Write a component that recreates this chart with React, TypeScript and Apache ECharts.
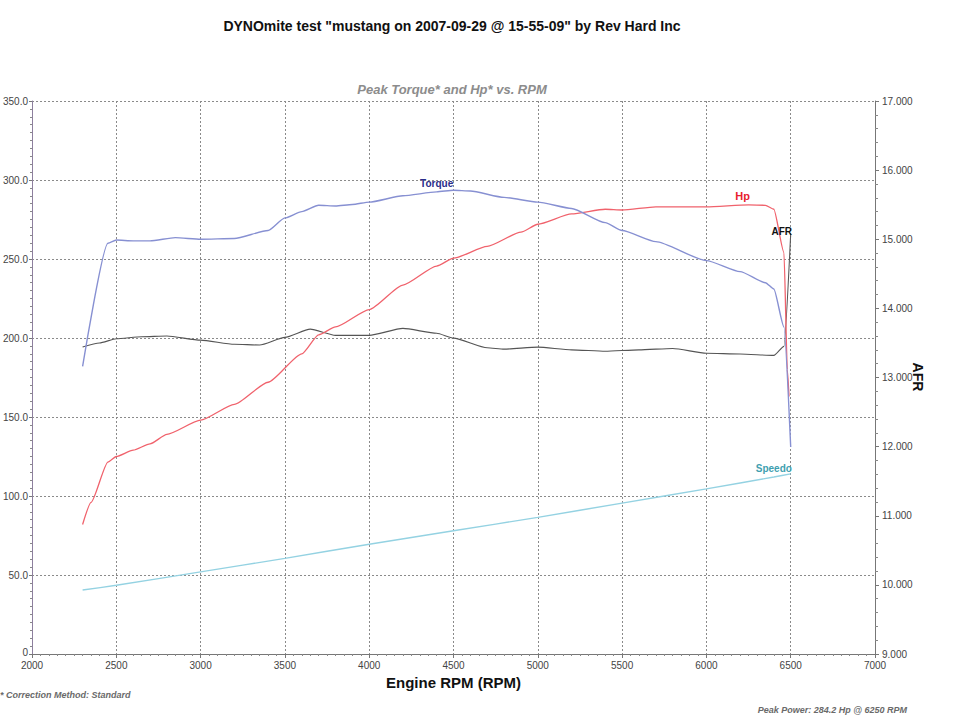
import React, { useEffect, useRef } from "react";
import * as echarts from "echarts";

const FONT = "'Liberation Sans', Arial, sans-serif";

const titleText = 'DYNOmite test "mustang on 2007-09-29 @ 15-55-09" by Rev Hard Inc';
const subtitleText = "Peak Torque* and Hp* vs. RPM";
const xAxisName = "Engine RPM (RPM)";
const rightAxisName = "AFR";
const footLeft = "* Correction Method: Standard";
const footRight = "Peak Power: 284.2 Hp @ 6250 RPM";

const torqueRpm = [2300, 2450, 2500, 2600, 2700, 2850, 3000, 3200, 3400, 3500, 3600, 3700, 3800, 3900, 4000, 4200, 4400, 4500, 4600, 4800, 5000, 5200, 5400, 5500, 5700, 6000, 6200, 6350, 6400, 6460, 6500];
const torqueVals = [182, 260, 262, 261.5, 261.5, 263.5, 262.5, 263, 268, 276, 280, 284, 283.5, 284.5, 286, 290, 292.5, 293.5, 293, 289, 286, 282, 273, 268, 261, 249, 242, 235, 231, 207, 131];

const hpRpm = [2300, 2350, 2450, 2500, 2600, 2700, 2800, 3000, 3200, 3400, 3600, 3700, 3800, 4000, 4200, 4400, 4500, 4700, 4900, 5000, 5200, 5400, 5500, 5700, 6000, 6250, 6350, 6400, 6460, 6480, 6490];
const hpVals = [82, 96, 121.5, 125, 129, 133, 139, 148, 158, 172, 190, 202, 207, 218, 233.5, 245.5, 250.5, 258, 267, 272, 278.5, 281.5, 281, 283, 283, 284.2, 284, 281.5, 254, 180, 163];

const afrRpm = [2300, 2400, 2500, 2650, 2800, 3000, 3200, 3350, 3500, 3650, 3800, 4000, 4200, 4400, 4500, 4700, 4800, 5000, 5200, 5400, 5600, 5800, 6000, 6200, 6400, 6460, 6500];
const afrVals = [13.44, 13.5, 13.56, 13.59, 13.6, 13.54, 13.48, 13.47, 13.58, 13.7, 13.61, 13.61, 13.71, 13.64, 13.57, 13.43, 13.41, 13.44, 13.4, 13.38, 13.4, 13.42, 13.35, 13.34, 13.32, 13.45, 15.08];

const speedoRpm = [2300, 2500, 3000, 3500, 4000, 4500, 5000, 5500, 6000, 6400, 6500];
const speedoVals = [40.5, 43.5, 52, 60.5, 69.5, 78, 86.5, 95.5, 104.5, 112, 114];

const torqueLabelAt = 4400;
const hpLabelAt = 6250;
const afrLabelAt = 6500;
const speedoLabelAt = 6400;

function pairs(rpm: number[], vals: number[]) {
  return rpm.map((r, i) => [r, vals[i]]);
}

function seriesLabel(rpm: number[], vals: number[], at: number, name: string, color: string, offset: number[], size = 10) {
  const i = rpm.indexOf(at);
  return {
    silent: true,
    symbol: "circle",
    symbolSize: 1,
    itemStyle: { color: "rgba(0,0,0,0)" },
    label: {
      show: true,
      formatter: name,
      position: "top",
      distance: 3,
      offset,
      color,
      fontFamily: FONT,
      fontWeight: "bold",
      fontSize: size,
    },
    data: [{ coord: [rpm[i], vals[i]] }],
  };
}

export default function App() {
  const ref = useRef<HTMLDivElement>(null);
  useEffect(() => {
    if (!ref.current) return;
    const chart = echarts.init(ref.current, null, { renderer: "svg" });
    const gridSplit = { show: true, lineStyle: { color: "#8a8a8a", type: [2, 2], width: 1 } };
    chart.setOption({
      animation: false,
      backgroundColor: "#ffffff",
      grid: { left: 30, right: 82, top: 101, bottom: 66, containLabel: false },
      graphic: [
        { type: "text", x: 452, y: 26, style: { text: titleText, font: `bold 14px ${FONT}`, fill: "#111", align: "center", verticalAlign: "middle" } },
        { type: "text", x: 452, y: 89, style: { text: subtitleText, font: `italic bold 13px ${FONT}`, fill: "#8c8c8c", align: "center", verticalAlign: "middle" } },
        { type: "text", x: 918, y: 377, rotation: -Math.PI / 2, style: { text: rightAxisName, font: `bold 14px ${FONT}`, fill: "#111", align: "center", verticalAlign: "middle" } },
        { type: "text", x: 0, y: 695, style: { text: footLeft, font: `italic bold 9px ${FONT}`, fill: "#6a6a6a", align: "left", verticalAlign: "middle" } },
        { type: "text", x: 907, y: 710, style: { text: footRight, font: `italic bold 9px ${FONT}`, fill: "#6a6a6a", align: "right", verticalAlign: "middle" } },
      ],
      xAxis: {
        type: "value",
        min: 2000,
        max: 7000,
        interval: 500,
        name: xAxisName,
        nameLocation: "middle",
        nameGap: 18,
        nameTextStyle: { fontFamily: FONT, fontWeight: "bold", fontSize: 15, color: "#111" },
        axisLine: { show: true, lineStyle: { color: "#777", width: 1 } },
        axisTick: { show: true, length: 4, lineStyle: { color: "#777" } },
        minorTick: { show: true, splitNumber: 10, length: 2, lineStyle: { color: "#888" } },
        axisLabel: { fontFamily: FONT, fontSize: 10, color: "#444", margin: 6, formatter: (v: number) => String(v) },
        splitLine: gridSplit,
      },
      yAxis: [
        {
          type: "value",
          position: "left",
          min: 0,
          max: 350,
          interval: 50,
          axisLine: { show: true, lineStyle: { color: "#8d7f9e", width: 1 } },
          axisTick: { show: true, length: 3, lineStyle: { color: "#777" } },
          minorTick: { show: true, splitNumber: 10, length: 2, lineStyle: { color: "#888" } },
          axisLabel: {
            fontFamily: FONT,
            fontSize: 10,
            color: "#444",
            margin: 4,
            formatter: (v: number) => (v === 0 ? "{z|0}" : v.toFixed(1)),
            rich: { z: { fontFamily: FONT, fontSize: 10, color: "#444", padding: [0, 0, 4, 0] } },
          },
          splitLine: gridSplit,
        },
        {
          type: "value",
          position: "right",
          min: 9,
          max: 17,
          interval: 1,
          axisLine: { show: true, lineStyle: { color: "#777", width: 1 } },
          axisTick: { show: true, length: 4, lineStyle: { color: "#777" } },
          minorTick: { show: true, splitNumber: 5, length: 3, lineStyle: { color: "#888" } },
          axisLabel: { fontFamily: FONT, fontSize: 10, color: "#444", margin: 7, formatter: (v: number) => v.toFixed(3) },
          splitLine: { show: false },
        },
      ],
      series: [
        {
          name: "Speedo",
          type: "line",
          yAxisIndex: 0,
          symbol: "none",
          smooth: 0.2,
          lineStyle: { color: "#94d2e2", width: 1.4 },
          itemStyle: { color: "#94d2e2" },
          data: pairs(speedoRpm, speedoVals),
          markPoint: seriesLabel(speedoRpm, speedoVals, speedoLabelAt, "Speedo", "#3f9fb0", [0, 0]),
        },
        {
          name: "AFR",
          type: "line",
          yAxisIndex: 1,
          symbol: "none",
          smooth: 0.2,
          smoothMonotone: "x",
          lineStyle: { color: "#555555", width: 1.1 },
          itemStyle: { color: "#555555" },
          data: pairs(afrRpm, afrVals),
          markPoint: seriesLabel(afrRpm, afrVals, afrLabelAt, "AFR", "#111", [-9, 6]),
        },
        {
          name: "Hp",
          type: "line",
          yAxisIndex: 0,
          symbol: "none",
          smooth: 0.2,
          smoothMonotone: "x",
          lineStyle: { color: "#f0626c", width: 1.3 },
          itemStyle: { color: "#f0626c" },
          data: pairs(hpRpm, hpVals),
          markPoint: seriesLabel(hpRpm, hpVals, hpLabelAt, "Hp", "#e8202e", [-6, 0], 11),
        },
        {
          name: "Torque",
          type: "line",
          yAxisIndex: 0,
          symbol: "none",
          smooth: 0.2,
          smoothMonotone: "x",
          lineStyle: { color: "#8790d2", width: 1.4 },
          itemStyle: { color: "#8790d2" },
          data: pairs(torqueRpm, torqueVals),
          markPoint: seriesLabel(torqueRpm, torqueVals, torqueLabelAt, "Torque", "#2a2d8a", [0, 0]),
        },
      ],
    });
    return () => chart.dispose();
  }, []);
  return <div ref={ref} style={{ position: "fixed", left: 0, top: 0, width: 957, height: 720 }} />;
}
